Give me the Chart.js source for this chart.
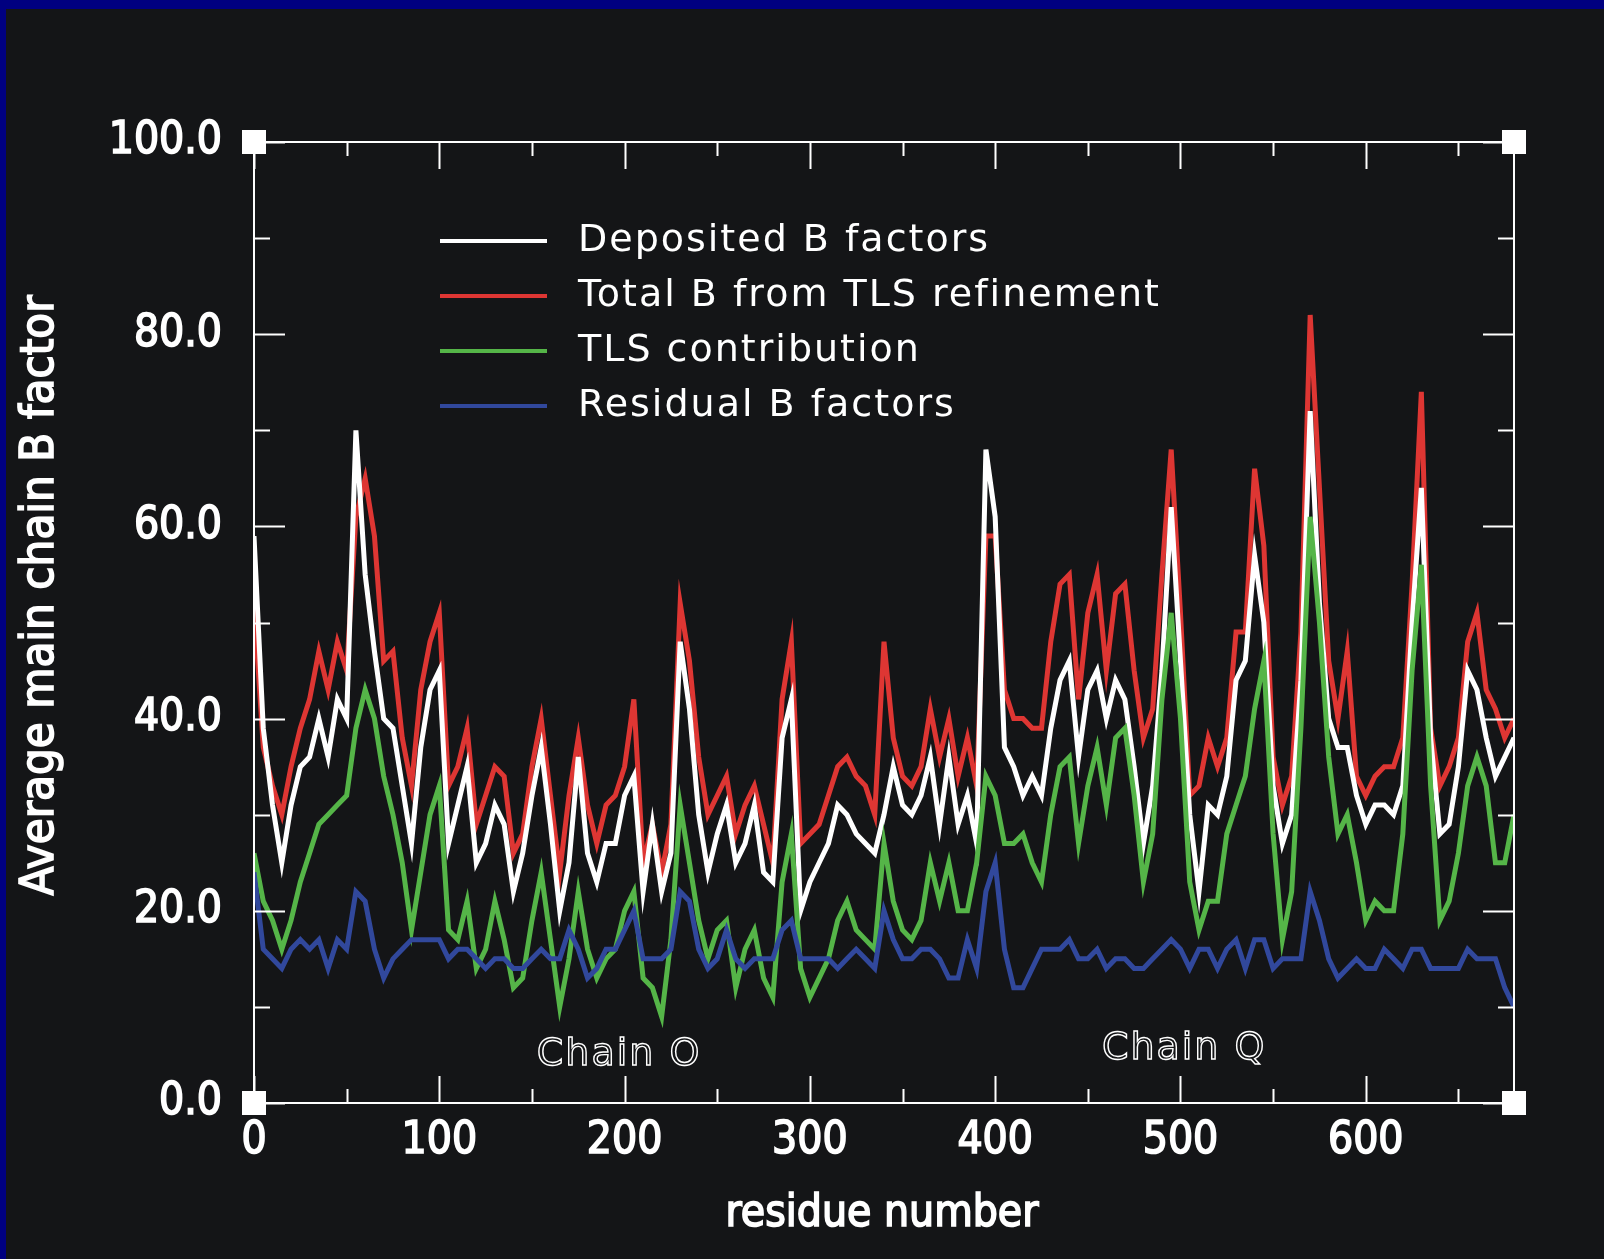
<!DOCTYPE html>
<html>
<head>
<meta charset="utf-8">
<title>Average main chain B factor</title>
<script src="https://cdn.jsdelivr.net/npm/chart.js@4.4.1/dist/chart.umd.min.js"></script>
<style>
    html, body { margin: 0; padding: 0; background: #000080; }
    #bfactorChart { display: block; }
</style>
</head>
<body>
<canvas id="bfactorChart" width="1604" height="1259"></canvas>
<script>
// residue numbers, one sample every 5 residues (0..680)
const residues = [];
for (let r = 0; r <= 680; r += 5) residues.push(r);

const depositedB = [
    59, 39, 31, 25, 31, 35, 36, 40, 36, 42, 40, 70, 55, 47, 40, 39, 33, 27, 37, 43, 45, 27, 31, 35, 25, 27, 31, 29, 22, 26, 32, 37, 29, 20, 25,
    36, 26, 23, 27, 27, 32, 34, 22, 29, 22, 26, 48, 41, 30, 24, 28, 31, 25, 27, 31, 24, 23, 38, 42, 20, 23, 25, 27, 31, 30, 28, 27, 26, 30,
    35, 31, 30, 32, 36, 29, 36, 29, 32, 27, 68, 61, 37, 35, 32, 34, 32, 39, 44, 46, 36, 43, 45, 40, 44, 42, 35, 27, 33, 45, 62, 46, 30, 22,
    31, 30, 34, 44, 46, 57, 50, 33, 27, 30, 44, 72, 52, 40, 37, 37, 32, 29, 31, 31, 30, 33, 50, 64, 38, 28, 29, 35, 45, 43, 38, 34, 36, 38
];
const totalTLS = [
    52, 37, 33, 30, 35, 39, 42, 47, 43, 48, 45, 61, 65, 59, 46, 47, 38, 33, 43, 48, 51, 33, 35, 39, 29, 32, 35, 34, 26, 28, 35, 40, 32, 24, 32,
    38, 31, 27, 31, 32, 35, 42, 25, 29, 24, 29, 52, 46, 36, 30, 32, 34, 28, 31, 33, 29, 25, 42, 48, 27, 28, 29, 32, 35, 36, 34, 33, 30, 48,
    38, 34, 33, 35, 41, 36, 40, 34, 38, 33, 59, 59, 43, 40, 40, 39, 39, 48, 54, 55, 42, 51, 55, 45, 53, 54, 45, 38, 41, 55, 68, 51, 32, 33,
    38, 35, 38, 49, 49, 66, 58, 36, 31, 34, 49, 82, 64, 46, 40, 47, 34, 32, 34, 35, 35, 38, 54, 74, 39, 33, 35, 38, 48, 51, 43, 41, 38, 40
];
const tlsContribution = [
    26, 21, 19, 16, 19, 23, 26, 29, 30, 31, 32, 39, 43, 40, 34, 30, 25, 18, 24, 30, 33, 18, 17, 21, 14, 16, 21, 17, 12, 13, 19, 24, 17, 10, 15,
    22, 16, 13, 15, 16, 20, 22, 13, 12, 9, 17, 31, 25, 19, 15, 18, 19, 12, 16, 18, 13, 11, 23, 28, 14, 11, 13, 15, 19, 21, 18, 17, 16, 27,
    21, 18, 17, 19, 25, 21, 25, 20, 20, 25, 34, 32, 27, 27, 28, 25, 23, 30, 35, 36, 27, 33, 37, 31, 38, 39, 32, 23, 28, 42, 51, 40, 23, 18,
    21, 21, 28, 31, 34, 41, 46, 28, 17, 22, 39, 61, 50, 36, 28, 30, 25, 19, 21, 20, 20, 28, 45, 56, 33, 19, 21, 26, 33, 36, 33, 25, 25, 30
];
const residualB = [
    24, 16, 15, 14, 16, 17, 16, 17, 14, 17, 16, 22, 21, 16, 13, 15, 16, 17, 17, 17, 17, 15, 16, 16, 15, 14, 15, 15, 14, 14, 15, 16, 15, 15, 18,
    16, 13, 14, 16, 16, 18, 20, 15, 15, 15, 16, 22, 21, 16, 14, 15, 18, 15, 14, 15, 15, 15, 18, 19, 15, 15, 15, 15, 14, 15, 16, 15, 14, 20,
    17, 15, 15, 16, 16, 15, 13, 13, 17, 14, 22, 25, 16, 12, 12, 14, 16, 16, 16, 17, 15, 15, 16, 14, 15, 15, 14, 14, 15, 16, 17, 16, 14, 16,
    16, 14, 16, 17, 14, 17, 17, 14, 15, 15, 15, 22, 19, 15, 13, 14, 15, 14, 14, 16, 15, 14, 16, 16, 14, 14, 14, 14, 16, 15, 15, 15, 12, 10
];

const seriesLabels = ['Deposited B factors', 'Total B from TLS refinement', 'TLS contribution', 'Residual B factors'];
const chainLabels = ['Chain O', 'Chain Q'];
const chainLabelX = [197, 502];
const chainLabelY = [5.0, 5.6];
const xRange = [0, 680];
const yRange = [0, 100];
const xTitle = 'residue number';
const yTitle = 'Average main chain B factor';

const labelFont = "'DejaVu Sans Condensed', 'DejaVu Sans', sans-serif";
const toPoints = vals => residues.map((r, i) => ({ x: r, y: vals[i] }));

// navy frame and dark page
const pageBackground = {
    id: 'pageBackground',
    beforeDraw(chart) {
        const { ctx, width, height } = chart;
        ctx.save();
        ctx.fillStyle = '#000080';
        ctx.fillRect(0, 0, width, height);
        ctx.fillStyle = '#141517';
        ctx.fillRect(6, 9, width - 6, height - 9);
        ctx.restore();
    }
};

// box round the plot with inward ticks on all four sides
const boxTicks = {
    id: 'boxTicks',
    afterDatasetsDraw(chart) {
        const { ctx, chartArea: a, scales: { x, y } } = chart;
        ctx.save();
        ctx.strokeStyle = '#ffffff';
        ctx.lineWidth = 2;
        ctx.strokeRect(a.left, a.top, a.right - a.left, a.bottom - a.top);
        ctx.beginPath();
        for (let v = yRange[0]; v <= yRange[1]; v += 10) {
            const py = Math.round(y.getPixelForValue(v)) + 0.5;
            const len = v % 20 === 0 ? 31 : 16;
            ctx.moveTo(a.left, py); ctx.lineTo(a.left + len, py);
            ctx.moveTo(a.right, py); ctx.lineTo(a.right - len, py);
        }
        for (let v = xRange[0]; v <= xRange[1]; v += 50) {
            const px = Math.round(x.getPixelForValue(v)) + 0.5;
            const len = v % 100 === 0 ? 27 : 14;
            ctx.moveTo(px, a.bottom); ctx.lineTo(px, a.bottom - len);
            ctx.moveTo(px, a.top); ctx.lineTo(px, a.top + len);
        }
        ctx.stroke();
        ctx.restore();
    }
};

// legend inside the plot, chain names and the two axis titles
const insideNotes = {
    id: 'insideNotes',
    afterDraw(chart) {
        const { ctx, chartArea: a, scales: { x, y } } = chart;
        ctx.save();
        ctx.font = "38px 'DejaVu Sans'";
        ctx.letterSpacing = '2px';
        ctx.textBaseline = 'middle';
        chart.data.datasets.filter(ds => ds.label).forEach((ds, i) => {
            const ly = a.top + 99 + i * 55;
            ctx.strokeStyle = ds.borderColor;
            ctx.lineWidth = 4;
            ctx.beginPath();
            ctx.moveTo(a.left + 186, ly);
            ctx.lineTo(a.left + 293, ly);
            ctx.stroke();
            ctx.fillStyle = '#ffffff';
            ctx.fillText(ds.label, a.left + 324, ly);
        });
        ctx.textAlign = 'center';
        ctx.strokeStyle = '#ffffff';
        ctx.lineWidth = 1.4;
        chainLabels.forEach((t, i) => {
            ctx.strokeText(t, x.getPixelForValue(chainLabelX[i]), y.getPixelForValue(chainLabelY[i]));
        });

        // axis titles: regular face thickened with a thin stroke
        ctx.letterSpacing = '0px';
        ctx.fillStyle = '#ffffff';
        ctx.lineWidth = 1.6;
        ctx.font = "44px " + labelFont;
        const tx = (a.left + a.right) / 2 - 2, ty = a.bottom + 112;
        ctx.fillText(xTitle, tx, ty);
        ctx.strokeText(xTitle, tx, ty);
        ctx.translate(41, (a.top + a.bottom) / 2 - 27);
        ctx.rotate(-Math.PI / 2);
        ctx.font = "47px " + labelFont;
        ctx.fillText(yTitle, 0, 0);
        ctx.strokeText(yTitle, 0, 0);
        ctx.restore();
    }
};

const lineSet = (label, vals, color, order) => ({
    label,
    data: toPoints(vals),
    borderColor: color,
    backgroundColor: color,
    borderWidth: 5,
    pointRadius: 0,
    tension: 0,
    order
});

const tickFont = { family: labelFont, size: 44 };

new Chart(document.getElementById('bfactorChart').getContext('2d'), {
    type: 'line',
    data: {
        datasets: [
            lineSet(seriesLabels[0], depositedB, '#ffffff', 2),
            lineSet(seriesLabels[1], totalTLS, '#de3633', 3),
            lineSet(seriesLabels[2], tlsContribution, '#55b548', 1),
            lineSet(seriesLabels[3], residualB, '#31489c', 0),
            {
                type: 'scatter',
                data: [
                    { x: xRange[0], y: yRange[0] }, { x: xRange[0], y: yRange[1] },
                    { x: xRange[1], y: yRange[0] }, { x: xRange[1], y: yRange[1] }
                ],
                pointStyle: 'rect',
                pointRadius: 17,
                backgroundColor: '#ffffff',
                borderWidth: 0,
                clip: false,
                order: -1
            }
        ]
    },
    options: {
        responsive: false,
        animation: false,
        layout: { padding: { top: 142, right: 90, left: 0, bottom: 0 } },
        plugins: { legend: { display: false }, tooltip: { enabled: false } },
        scales: {
            x: {
                type: 'linear',
                min: xRange[0],
                max: xRange[1],
                afterFit: s => { s.height = 156; },
                grid: { display: false },
                border: { display: false },
                ticks: {
                    stepSize: 100,
                    includeBounds: false,
                    padding: 4,
                    color: '#ffffff',
                    textStrokeColor: '#ffffff',
                    textStrokeWidth: 1.6,
                    font: tickFont
                }
            },
            y: {
                min: yRange[0],
                max: yRange[1],
                afterFit: s => { s.width = 254; },
                grid: { display: false },
                border: { display: false },
                ticks: {
                    stepSize: 20,
                    padding: 24,
                    color: '#ffffff',
                    textStrokeColor: '#ffffff',
                    textStrokeWidth: 1.6,
                    font: tickFont,
                    callback: v => v.toFixed(1)
                }
            }
        }
    },
    plugins: [pageBackground, boxTicks, insideNotes]
});
</script>
</body>
</html>
